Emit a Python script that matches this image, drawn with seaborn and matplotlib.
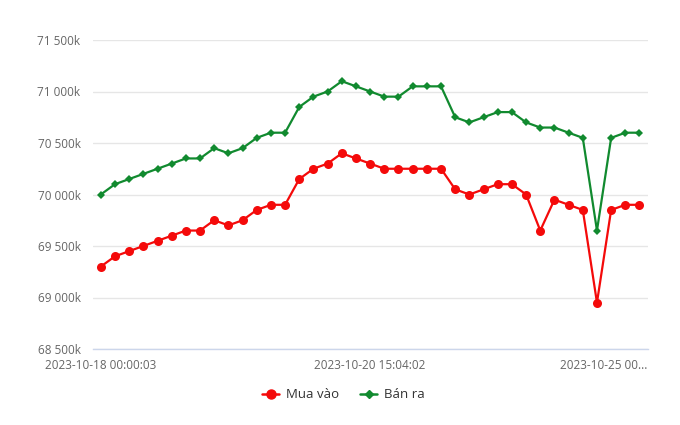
import matplotlib
matplotlib.use("Agg")
import matplotlib.pyplot as plt
from matplotlib.lines import Line2D
import seaborn as sns
import pandas as pd

mua_vao = [69300, 69400, 69450, 69500, 69550, 69600, 69650, 69650, 69750, 69700,
           69750, 69850, 69900, 69900, 70150, 70250, 70300, 70400, 70350, 70300,
           70250, 70250, 70250, 70250, 70250, 70050, 70000, 70050, 70100, 70100,
           70000, 69650, 69950, 69900, 69850, 68950, 69850, 69900, 69900]
ban_ra = [70000, 70100, 70150, 70200, 70250, 70300, 70350, 70350, 70450, 70400,
          70450, 70550, 70600, 70600, 70850, 70950, 71000, 71100, 71050, 71000,
          70950, 70950, 71050, 71050, 71050, 70750, 70700, 70750, 70800, 70800,
          70700, 70650, 70650, 70600, 70550, 69650, 70550, 70600, 70600]
x_tick_pos = [0, 19, 38]
x_tick_labels = ["2023-10-18 00:00:03", "2023-10-20 15:04:02", "2023-10-25 00..."]
y_ticks = [68500, 69000, 69500, 70000, 70500, 71000, 71500]

n = len(mua_vao)
df = pd.DataFrame({"idx": list(range(n)) * 2,
                   "value": mua_vao + ban_ra,
                   "series": ["Mua vào"] * n + ["Bán ra"] * n})

sns.set_style("white")
plt.rcParams["font.family"] = ["Open Sans", "DejaVu Sans"]

fig = plt.figure(figsize=(6.8, 4.25), dpi=100)
ax = fig.add_axes([93/680, 1-349/425, (648-93)/680, (349-40)/425])

red = "#f40a0a"
green = "#118a2f"
sns.lineplot(data=df, x="idx", y="value", hue="series", style="series",
             palette={"Mua vào": red, "Bán ra": green},
             markers={"Mua vào": "o", "Bán ra": "D"},
             dashes=False, linewidth=1.6, markeredgewidth=0,
             ax=ax, legend=False)
for line, ms in zip(ax.lines, [6.5, 4.5]):
    line.set_markersize(ms)

ax.set_xlim(-0.55, 38.6)
ax.set_ylim(68500, 71500)
ax.set_yticks(y_ticks)
ax.set_yticklabels([f"{v//1000} {v%1000:03d}k" for v in y_ticks],
                   color="#666666", fontsize=8.5)
ax.set_xticks(x_tick_pos)
ax.set_xticklabels(x_tick_labels[:-1] + [""], color="#666666", fontsize=8.5)
# last label is shifted left so it stays inside the plot, as in the reference
ax.annotate(x_tick_labels[-1], xy=(x_tick_pos[-1], 0), xycoords=("data", "axes fraction"),
            xytext=(6, -7), textcoords="offset points", ha="right", va="top",
            color="#666666", fontsize=8.5)
ax.tick_params(axis="both", length=0)
ax.tick_params(axis="y", pad=9)
ax.tick_params(axis="x", pad=7)
ax.grid(axis="y", color="#e6e6e6", linewidth=1)
for s in ["top", "right", "left"]:
    ax.spines[s].set_visible(False)
ax.spines["bottom"].set_color("#ccd6eb")
ax.spines["bottom"].set_linewidth(1)
ax.set_xlabel("")
ax.set_ylabel("")

handles = [Line2D([0], [0], color=red, marker="o", markersize=6.5, lw=1.8),
           Line2D([0], [0], color=green, marker="D", markersize=4.5, lw=1.8)]
fig.legend(handles, ["Mua vào", "Bán ra"], loc="center", bbox_to_anchor=(0.505, 1-395/425),
           ncol=2, frameon=False, fontsize=9.5, handlelength=1.3, columnspacing=1.6,
           handletextpad=0.5, labelcolor="#333333")

fig.savefig("out.png", dpi=100, facecolor="white")
